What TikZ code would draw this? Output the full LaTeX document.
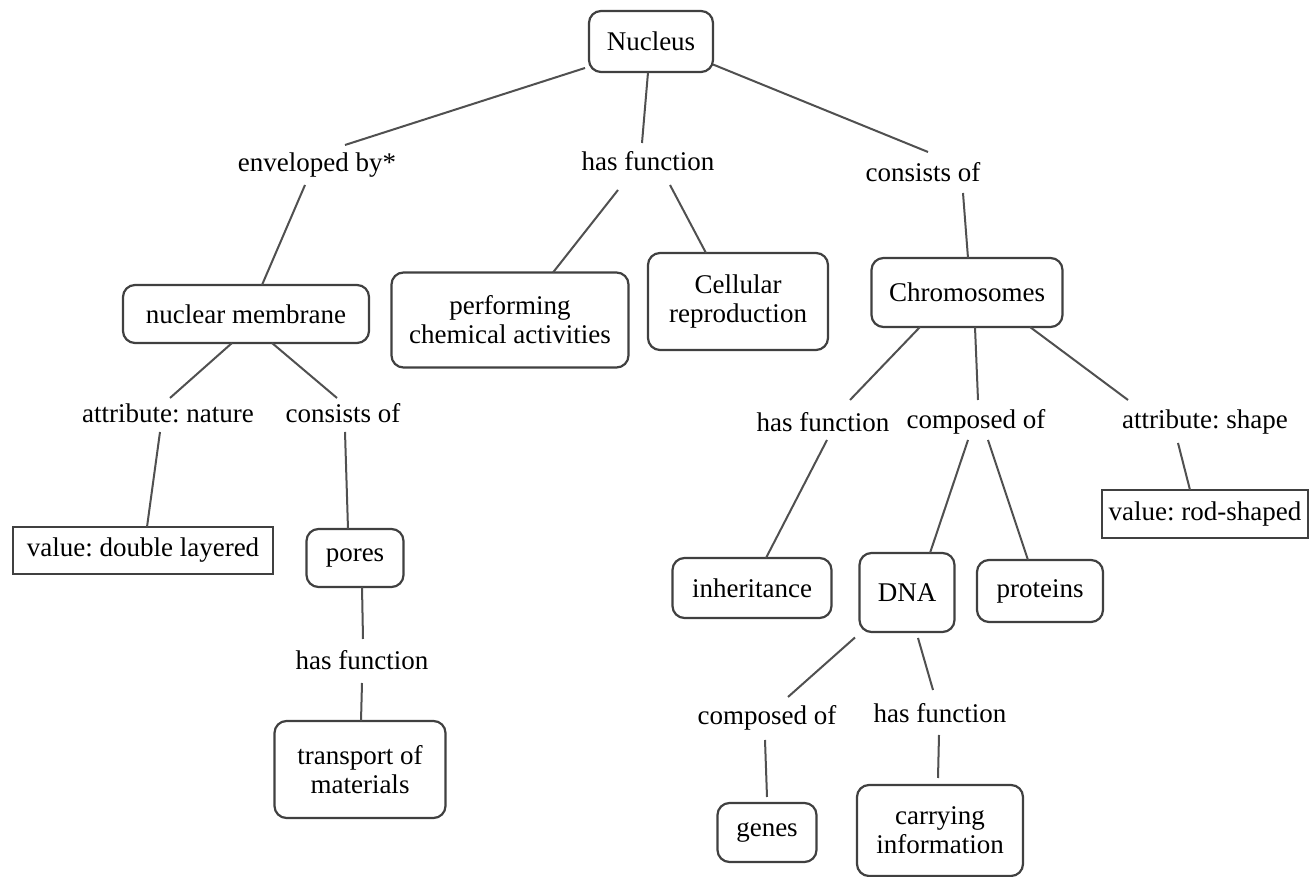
\documentclass[tikz,border=0pt]{standalone}
\usepackage{fontspec}
\setmainfont{Liberation Serif}
\usetikzlibrary{calc}
\definecolor{boxc}{RGB}{64,64,64}
\definecolor{linec}{RGB}{80,80,80}
\frenchspacing
\begin{document}
\begin{tikzpicture}[x=1pt,y=1pt,
  font=\rmfamily\fontsize{27}{29}\selectfont,
  box/.style={draw=boxc, line width=2.2pt, rounded corners=12pt, align=center, inner sep=0pt, fill=white},
  sqbox/.style={draw=boxc, line width=2.2pt, align=center, inner sep=0pt, fill=white},
  lab/.style={inner sep=0pt, align=center},
  conn/.style={draw=linec, line width=2pt}]
\useasboundingbox (0,0) rectangle (1309,877);
\fill[white] (0,0) rectangle (1309,877);

% boxes
\node[box, minimum width=124, minimum height=61] (nuc) at (651,835.5) {Nucleus};
\node[box, minimum width=246, minimum height=58] (mem) at (246,563) {nuclear membrane};
\node[box, minimum width=237, minimum height=95] (perf) at (510,557) {performing\\chemical activities};
\node[box, minimum width=180, minimum height=97] (cell) at (738,575.5) {Cellular\\reproduction};
\node[box, minimum width=191, minimum height=69] (chrom) at (967,584.5) {Chromosomes};
\node[sqbox, minimum width=260, minimum height=47] (val) at (143,326.5) {value: double layered};
\node[box, minimum width=97, minimum height=58] (pores) at (355,319) {pores};
\node[box, minimum width=171, minimum height=97] (trans) at (360,107.5) {transport of\\materials};
\node[box, minimum width=159, minimum height=60] (inh) at (752,289) {inheritance};
\node[box, minimum width=95, minimum height=79] (dna) at (907,284.5) {DNA};
\node[box, minimum width=126, minimum height=62] (prot) at (1040,286) {proteins};
\node[sqbox, minimum width=206, minimum height=48] (rod) at (1205,363) {value: rod-shaped};
\node[box, minimum width=99, minimum height=59] (genes) at (767,44.5) {genes};
\node[box, minimum width=166, minimum height=91] (carry) at (940,46.5) {carrying\\information};

% labels
\node[lab] (env) at (317,712) {enveloped by*};
\node[lab] (hf1) at (648,716) {has function};
\node[lab] (cons1) at (923,705) {consists of};
\node[lab] (attrN) at (168,464) {attribute: nature};
\node[lab] (consL) at (343,464) {consists of};
\node[lab] (hfP) at (362,217) {has function};
\node[lab] (hfC) at (823,455) {has function};
\node[lab] (compC) at (976,455) {composed of};
\node[lab] (attrS) at (1205,455) {attribute: shape};
\node[lab] (compD) at (767,159) {composed of};
\node[lab] (hfD) at (940,164) {has function};

% connectors
\draw[conn] ($(nuc)+(-66,-26.5)$) -- ($(env)+(28,20)$);
\draw[conn] ($(env)+(-12,-20)$) -- ($(mem)+(16,29)$);
\draw[conn] ($(nuc)+(-3,-31)$) -- ($(hf1)+(-6,18)$);
\draw[conn] ($(hf1)+(-30,-29)$) -- ($(perf)+(43,47.5)$);
\draw[conn] ($(hf1)+(22,-24)$) -- ($(cell)+(-32,48.5)$);
\draw[conn] ($(nuc)+(62,-23)$) -- ($(cons1)+(5,20)$);
\draw[conn] ($(cons1)+(40,-21)$) -- ($(chrom)+(1,34.5)$);
\draw[conn] ($(mem)+(-14,-29)$) -- ($(attrN)+(2,15)$);
\draw[conn] ($(mem)+(26,-29)$) -- ($(consL)+(-6,15)$);
\draw[conn] ($(attrN)+(-8,-19)$) -- ($(val)+(4,23.5)$);
\draw[conn] ($(consL)+(2,-19)$) -- ($(pores)+(-7,29)$);
\draw[conn] ($(pores)+(7,-29)$) -- ($(hfP)+(1,21)$);
\draw[conn] ($(hfP)+(0,-23)$) -- ($(trans)+(1,48.5)$);
\draw[conn] ($(chrom)+(-47,-34.5)$) -- ($(hfC)+(27,22)$);
\draw[conn] ($(chrom)+(8,-34.5)$) -- ($(compC)+(2,22)$);
\draw[conn] ($(chrom)+(63,-34.5)$) -- ($(attrS)+(-77,22)$);
\draw[conn] ($(hfC)+(4,-18)$) -- ($(inh)+(14,30)$);
\draw[conn] ($(compC)+(-8,-18)$) -- ($(dna)+(23,39.5)$);
\draw[conn] ($(compC)+(12,-18)$) -- ($(prot)+(-12,31)$);
\draw[conn] ($(attrS)+(-27,-21)$) -- ($(rod)+(-15,24)$);
\draw[conn] ($(dna)+(-52,-45)$) -- ($(compD)+(21,21)$);
\draw[conn] ($(dna)+(11,-45.5)$) -- ($(hfD)+(-7,23)$);
\draw[conn] ($(compD)+(-2,-22)$) -- ($(genes)+(0,35.5)$);
\draw[conn] ($(hfD)+(-1,-22)$) -- ($(carry)+(-2,52.5)$);
\end{tikzpicture}
\end{document}
